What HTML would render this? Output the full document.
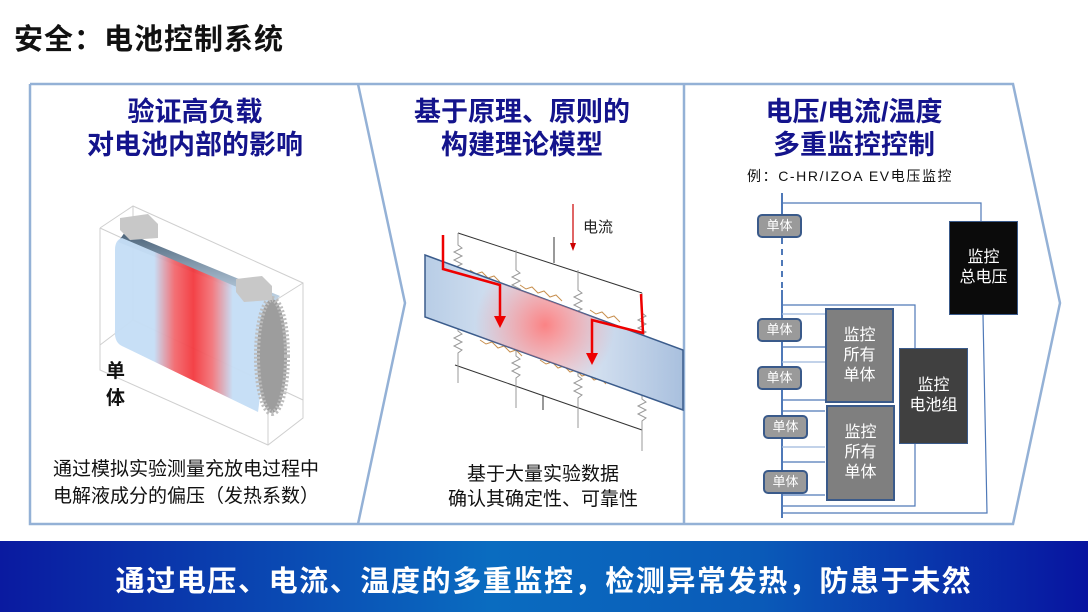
<!DOCTYPE html>
<html><head><meta charset="utf-8"><style>
body{margin:0;width:1088px;height:612px;overflow:hidden;background:#fff;font-family:"Liberation Sans","Noto Sans CJK SC",sans-serif;position:relative}
.a{position:absolute;white-space:nowrap}
.t{color:#14148c;font-weight:bold;font-size:27px;text-align:center;line-height:33px}
.bx{position:absolute;box-sizing:border-box;color:#fff;font-size:16px;text-align:center;display:flex;align-items:center;justify-content:center;line-height:20px}
.cell{position:absolute;width:45px;height:24px;box-sizing:border-box;background:#9a9a9a;border:2px solid #3a5a8a;border-radius:5px;color:#fff;font-size:13px;text-align:center;line-height:20px}
</style></head><body>
<div class="a" style="left:14px;top:16px;font-size:29px;font-weight:bold;color:#111;letter-spacing:1px">安全：电池控制系统</div>

<svg class="a" style="left:0;top:0" width="1088" height="612">
<defs>
<linearGradient id="band" x1="0" y1="0" x2="1" y2="0"><stop offset="0" stop-color="#b8cde6"/><stop offset="0.5" stop-color="#e6eef8"/><stop offset="1" stop-color="#a9c0de"/></linearGradient>
<radialGradient id="glow" cx="545" cy="325" r="70" gradientUnits="userSpaceOnUse"><stop offset="0" stop-color="#ff7070" stop-opacity="0.85"/><stop offset="1" stop-color="#ff8080" stop-opacity="0"/></radialGradient>
<linearGradient id="red" x1="0" y1="0" x2="1" y2="0"><stop offset="0" stop-color="#c2dcf5"/><stop offset="0.25" stop-color="#c2dcf5"/><stop offset="0.38" stop-color="#ff4040"/><stop offset="0.5" stop-color="#ff0000"/><stop offset="0.62" stop-color="#ff5050"/><stop offset="0.75" stop-color="#c2dcf5"/><stop offset="1" stop-color="#c2dcf5"/></linearGradient>
<linearGradient id="top" x1="0" y1="0" x2="0" y2="1"><stop offset="0" stop-color="#4a6278"/><stop offset="1" stop-color="#c9dced"/></linearGradient>
</defs>
<polyline points="30,84 1013,84 1060,303 1013,524 30,524 30,84" fill="none" stroke="#94b1d6" stroke-width="2.5"/>
<polyline points="358,84 405,303 358,524" fill="none" stroke="#94b1d6" stroke-width="2.5"/>
<line x1="684" y1="84" x2="684" y2="524" stroke="#94b1d6" stroke-width="2.5"/>

<g stroke="#cfcfcf" stroke-width="1" fill="none">
<polyline points="100,228 133,206 303,283 303,418 268,445 100,370 100,228"/>
<line x1="100" y1="228" x2="268" y2="305"/><line x1="268" y1="305" x2="303" y2="283"/><line x1="268" y1="305" x2="268" y2="445"/>
<line x1="133" y1="206" x2="133" y2="320"/><line x1="133" y1="320" x2="303" y2="400"/><line x1="133" y1="320" x2="100" y2="345"/>
</g>
<path d="M125,232 L280,296 L272,304 L118,242 Z" fill="url(#top)"/>
<path d="M122,238 L272,302 L258,412 L122,346 Q114,342 115,330 L115,250 Q115,240 122,238 Z" fill="url(#red)" opacity="0.95"/>
<path d="M122,238 L272,302 L258,412 L122,346 Q114,342 115,330 L115,250 Q115,240 122,238 Z" fill="#cfe4f7" opacity="0.25"/>
<ellipse cx="272" cy="356" rx="15" ry="57" fill="#9d9d9d"/>
<ellipse cx="272" cy="356" rx="15" ry="57" fill="none" stroke="#bdbdbd" stroke-dasharray="2 2" stroke-width="6"/>
<path d="M120,218 L148,214 L158,224 L158,238 L130,240 L120,230 Z" fill="#c8c8c8"/>
<path d="M236,279 L262,276 L272,286 L272,300 L244,302 L236,292 Z" fill="#c8c8c8"/>

<g stroke="#333" stroke-width="1" fill="none">
<line x1="458" y1="233" x2="642" y2="293"/><line x1="554" y1="237" x2="554" y2="263"/>
<line x1="455" y1="365" x2="642" y2="430"/><line x1="543" y1="395" x2="543" y2="410"/>
</g>
<g stroke="#999" stroke-width="1" fill="none">
<path d="M458,233 v12 l4,3 -8,4 8,4 -8,4 8,4 -8,4 4,3 v60 l4,3 -8,4 8,4 -8,4 8,4 -4,3 v30"/>
<path d="M516,250 v20 l4,3 -8,4 8,4 -8,4 8,4 -8,4 4,3 v60 l4,3 -8,4 8,4 -8,4 8,4 -4,3 v30"/>
<path d="M578,270 v20 l4,3 -8,4 8,4 -8,4 8,4 -8,4 4,3 v60 l4,3 -8,4 8,4 -8,4 8,4 -4,3 v30"/>
<path d="M642,293 v20 l4,3 -8,4 8,4 -8,4 8,4 -8,4 4,3 v60 l4,3 -8,4 8,4 -8,4 8,4 -4,3 v30"/>
<line x1="445" y1="320" x2="475" y2="320"/><line x1="450" y1="326" x2="470" y2="326"/>
<line x1="500" y1="338" x2="530" y2="338"/><line x1="505" y1="344" x2="525" y2="344"/>
<line x1="558" y1="356" x2="595" y2="356"/><line x1="562" y1="362" x2="590" y2="362"/>
<line x1="622" y1="375" x2="660" y2="375"/><line x1="628" y1="381" x2="655" y2="381"/>
</g>
<path d="M470,270 l6,4 6,-2 6,6 6,-2 6,6 M520,285 l6,4 6,-2 6,6 6,-2 6,6 6,-2 6,6 M590,310 l6,4 6,-2 6,6 6,-2 6,6 M480,340 l6,4 6,-2 6,6 6,-2 6,6 6,-2 6,6 M540,360 l6,4 6,-2 6,6 6,-2 6,6 6,-2 6,6 6,-2 6,6 6,-2 6,6" stroke="#c89050" fill="none" stroke-width="1"/>
<polygon points="425,255 683,350 683,410 425,317" fill="url(#band)" stroke="#3b5c8c" stroke-width="1.5"/>
<polygon points="425,255 683,350 683,410 425,317" fill="url(#glow)"/>
<polyline points="443,235 443,269 500,285 500,318" fill="none" stroke="#e00" stroke-width="2.5"/>
<polygon points="494,316 506,316 500,328" fill="#e00"/>
<polyline points="641,294 643,333 592,320 592,355" fill="none" stroke="#e00" stroke-width="2.5"/>
<polygon points="586,353 598,353 592,365" fill="#e00"/>
<line x1="573" y1="204" x2="573" y2="245" stroke="#c00" stroke-width="1.2"/>
<polygon points="570,243 576,243 573,251" fill="#c00"/>

<g stroke="#4f79b8" stroke-width="1.2" fill="none">
<line x1="782" y1="193" x2="782" y2="238" stroke-width="2"/>
<line x1="782" y1="238" x2="782" y2="290" stroke-width="2" stroke-dasharray="6 5"/>
<line x1="782" y1="290" x2="782" y2="518" stroke-width="2"/>
<polyline points="782,203 981,203 981,221"/>
<polyline points="983,315 987,513 782,513"/>
<polyline points="782,305 915,305 915,348"/>
<polyline points="782,506 915,506 915,444"/>
<line x1="782" y1="314" x2="825" y2="314" stroke="#9db8dc"/>
<line x1="782" y1="347" x2="825" y2="347"/>
<line x1="782" y1="362" x2="825" y2="362" stroke="#9db8dc"/>
<line x1="782" y1="400" x2="825" y2="400"/>
<line x1="782" y1="411" x2="825" y2="411"/>
<line x1="782" y1="447" x2="825" y2="447" stroke="#9db8dc"/>
<line x1="782" y1="462" x2="825" y2="462"/>
<line x1="782" y1="495" x2="825" y2="495"/>
</g>
</svg>

<div class="a t" style="left:30px;top:96px;width:330px">验证高负载<br>对电池内部的影响</div>
<div class="a t" style="left:360px;top:96px;width:324px">基于原理、原则的<br>构建理论模型</div>
<div class="a t" style="left:684px;top:96px;width:340px">电压/电流/温度<br>多重监控控制</div>

<div class="a" style="left:106px;top:358px;font-size:19px;font-weight:bold;line-height:27px;color:#111">单<br>体</div>
<div class="a" style="left:53px;top:456px;font-size:19px;line-height:27px;color:#111">通过模拟实验测量充放电过程中<br>电解液成分的偏压（发热系数）</div>
<div class="a" style="left:583px;top:216px;font-size:15px;color:#222">电流</div>
<div class="a" style="left:360px;top:462px;width:366px;text-align:center;font-size:19px;line-height:25px;color:#111">基于大量实验数据<br>确认其确定性、可靠性</div>

<div class="a" style="left:747px;top:166px;font-size:14px;letter-spacing:1.6px;color:#111">例：C-HR/IZOA EV电压监控</div>
<div class="cell" style="left:757px;top:214px">单体</div>
<div class="cell" style="left:757px;top:318px">单体</div>
<div class="cell" style="left:757px;top:366px">单体</div>
<div class="cell" style="left:763px;top:415px">单体</div>
<div class="cell" style="left:763px;top:470px">单体</div>
<div class="bx" style="left:949px;top:221px;width:69px;height:94px;background:#0b0b0b;border:1.5px solid #3a5a8a">监控<br>总电压</div>
<div class="bx" style="left:825px;top:308px;width:69px;height:95px;background:#7f7f7f;border:2px solid #3a5a8a">监控<br>所有<br>单体</div>
<div class="bx" style="left:826px;top:405px;width:69px;height:96px;background:#7f7f7f;border:2px solid #3a5a8a">监控<br>所有<br>单体</div>
<div class="bx" style="left:899px;top:348px;width:69px;height:96px;background:#404040;border:1.5px solid #3a5a8a">监控<br>电池组</div>

<div class="a" style="left:0;top:541px;width:1088px;height:71px;background:linear-gradient(90deg,#0a1aa0 0%,#0a6cc0 45%,#0a5ab8 70%,#0814a0 100%)"></div>
<div class="a" style="left:0;top:558px;width:1088px;text-align:center;color:#fff;font-size:29px;font-weight:bold;letter-spacing:1.6px">通过电压、电流、温度的多重监控，检测异常发热，防患于未然</div>
</body></html>
